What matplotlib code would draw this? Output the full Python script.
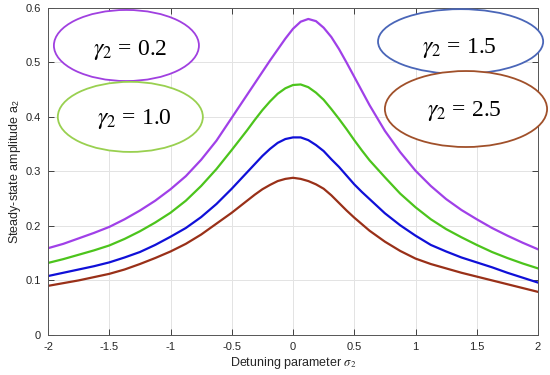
import matplotlib
matplotlib.use("Agg")
import matplotlib.pyplot as plt
from matplotlib.patches import Ellipse

plt.rcParams['font.family'] = ['Liberation Sans', 'DejaVu Sans']
plt.rcParams['mathtext.fontset'] = 'stix'

# detuning parameter sigma_2 (denser around the peaks)
sigma = [-2, -1.875, -1.75, -1.625, -1.5, -1.375, -1.25, -1.125, -1, -0.875,
         -0.75, -0.625, -0.5, -0.4375, -0.375, -0.3125, -0.25, -0.1875, -0.125,
         -0.0625, 0, 0.0625, 0.125, 0.1875, 0.25, 0.3125, 0.375, 0.4375, 0.5,
         0.5625, 0.625, 0.75, 0.875, 1, 1.125, 1.25, 1.375, 1.5, 1.625, 1.75,
         1.875, 2]

# steady-state amplitude a_2 for each gamma_2
a_g02 = [0.159, 0.167, 0.177, 0.187, 0.198, 0.212, 0.228, 0.246, 0.267, 0.291,
         0.321, 0.356, 0.398, 0.419, 0.440, 0.461, 0.482, 0.503, 0.523, 0.543,
         0.561, 0.574, 0.579, 0.575, 0.563, 0.546, 0.524, 0.499, 0.473, 0.447,
         0.421, 0.374, 0.335, 0.301, 0.273, 0.249, 0.229, 0.212, 0.196, 0.182,
         0.169, 0.157]
a_g10 = [0.132, 0.139, 0.147, 0.155, 0.164, 0.176, 0.190, 0.206, 0.224, 0.246,
         0.273, 0.304, 0.339, 0.357, 0.375, 0.394, 0.412, 0.428, 0.442, 0.452,
         0.458, 0.459, 0.454, 0.444, 0.431, 0.414, 0.396, 0.377, 0.357, 0.338,
         0.320, 0.289, 0.259, 0.234, 0.212, 0.194, 0.179, 0.165, 0.152, 0.141,
         0.131, 0.122]
a_g15 = [0.108, 0.114, 0.120, 0.126, 0.133, 0.142, 0.152, 0.165, 0.180, 0.196,
         0.216, 0.240, 0.268, 0.283, 0.298, 0.313, 0.328, 0.341, 0.352, 0.359,
         0.362, 0.362, 0.357, 0.348, 0.337, 0.322, 0.308, 0.292, 0.276, 0.262,
         0.249, 0.223, 0.201, 0.182, 0.165, 0.153, 0.142, 0.133, 0.124, 0.114,
         0.105, 0.096]
a_g25 = [0.090, 0.095, 0.100, 0.106, 0.112, 0.120, 0.130, 0.141, 0.153, 0.167,
         0.184, 0.204, 0.224, 0.235, 0.246, 0.257, 0.267, 0.275, 0.282, 0.286,
         0.288, 0.286, 0.282, 0.276, 0.268, 0.256, 0.242, 0.228, 0.215, 0.203,
         0.191, 0.171, 0.154, 0.140, 0.130, 0.122, 0.114, 0.107, 0.100, 0.093,
         0.086, 0.079]

labels = ['0.2', '1.0', '1.5', '2.5']
colors = ['#a040e8', '#4cc41c', '#1010d8', '#993018']
ell_colors = ['#a040e0', '#99d050', '#4a66b8', '#a0502a']

fig = plt.figure(figsize=(5.5, 3.75), dpi=100)
ax = fig.add_axes([0.0873, 0.1067, 0.8909, 0.8733])

for ys, c in zip([a_g02, a_g10, a_g15, a_g25], colors):
    ax.plot(sigma, ys, color=c, linewidth=1.6, solid_joinstyle='round')

ax.set_xlim(-2, 2)
ax.set_ylim(0, 0.6)
ax.set_xticks([-2, -1.5, -1, -0.5, 0, 0.5, 1, 1.5, 2])
ax.set_xticklabels(['-2', '-1.5', '-1', '-0.5', '0', '0.5', '1', '1.5', '2'])
ax.set_yticks([0, 0.1, 0.2, 0.3, 0.4, 0.5, 0.6])
ax.set_yticklabels(['0', '0.1', '0.2', '0.3', '0.4', '0.5', '0.6'])
ax.grid(True, color='#e3e3e3', linewidth=0.7)
ax.set_axisbelow(True)
ax.tick_params(direction='in', length=4, width=0.6, labelsize=8,
               colors='#262626', top=True, right=True, pad=5)
for s in ax.spines.values():
    s.set_color('#555555')
    s.set_linewidth(0.7)

ax.set_xlabel(r'Detuning parameter $\sigma_2$', fontsize=9, color='#262626',
              labelpad=2)
ax.set_ylabel(r'Steady-state amplitude a$_\mathregular{2}$', fontsize=9,
              color='#262626', labelpad=2)

# annotation ellipses (axes coordinates)
ell_pos = [(0.160, 0.884, 0.296, 0.217), (0.168, 0.666, 0.296, 0.214),
           (0.842, 0.896, 0.337, 0.198), (0.853, 0.690, 0.331, 0.232)]
txt_pos = [(0.167, 0.870), (0.176, 0.660), (0.839, 0.876), (0.850, 0.684)]
for (cx, cy, w, h), (tx, ty), lab, ec in zip(ell_pos, txt_pos, labels, ell_colors):
    e = Ellipse((cx, cy), w, h, transform=ax.transAxes, facecolor='white',
                edgecolor=ec, linewidth=1.3, clip_on=False, zorder=5)
    ax.add_patch(e)
    ax.text(tx, ty, r'$\gamma_2$ = ' + lab, transform=ax.transAxes,
            ha='center', va='center', fontsize=17, family='Liberation Serif',
            zorder=6)

fig.savefig('out.png', dpi=100)
